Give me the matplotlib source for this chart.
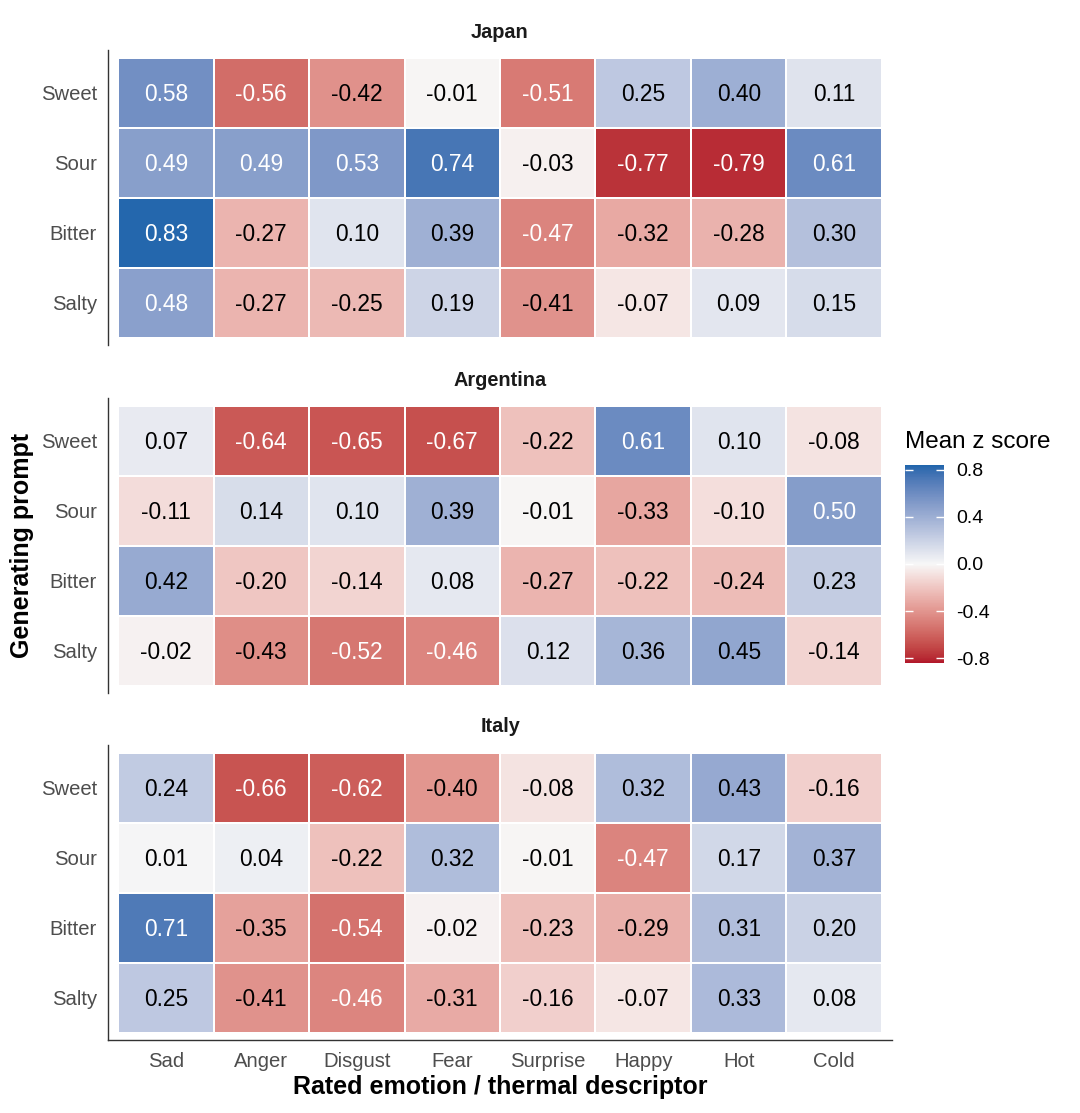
import numpy as np
import matplotlib
matplotlib.use("Agg")
import matplotlib.pyplot as plt
from matplotlib.colors import ListedColormap, Normalize

plt.rcParams['font.family'] = ['Liberation Sans', 'DejaVu Sans']

emotions = ["Sad", "Anger", "Disgust", "Fear", "Surprise", "Happy", "Hot", "Cold"]
prompts = ["Sweet", "Sour", "Bitter", "Salty"]
countries = ["Japan", "Argentina", "Italy"]

japan = [
    [0.58, -0.56, -0.42, -0.01, -0.51, 0.25, 0.40, 0.11],
    [0.49, 0.49, 0.53, 0.74, -0.03, -0.77, -0.79, 0.61],
    [0.83, -0.27, 0.10, 0.39, -0.47, -0.32, -0.28, 0.30],
    [0.48, -0.27, -0.25, 0.19, -0.41, -0.07, 0.09, 0.15],
]
argentina = [
    [0.07, -0.64, -0.65, -0.67, -0.22, 0.61, 0.10, -0.08],
    [-0.11, 0.14, 0.10, 0.39, -0.01, -0.33, -0.10, 0.50],
    [0.42, -0.20, -0.14, 0.08, -0.27, -0.22, -0.24, 0.23],
    [-0.02, -0.43, -0.52, -0.46, 0.12, 0.36, 0.45, -0.14],
]
italy = [
    [0.24, -0.66, -0.62, -0.40, -0.08, 0.32, 0.43, -0.16],
    [0.01, 0.04, -0.22, 0.32, -0.01, -0.47, 0.17, 0.37],
    [0.71, -0.35, -0.54, -0.02, -0.23, -0.29, 0.31, 0.20],
    [0.25, -0.41, -0.46, -0.31, -0.16, -0.07, 0.33, 0.08],
]
panels = [japan, argentina, italy]
cbar_ticks = [-0.8, -0.4, 0.0, 0.4, 0.8]


# ---- Lab-interpolated diverging colormap (like ggplot2 gradient2) ----
M = np.array([[0.4124564, 0.3575761, 0.1804375],
              [0.2126729, 0.7151522, 0.0721750],
              [0.0193339, 0.1191920, 0.9503041]])
Minv = np.linalg.inv(M)
WHITE = np.array([0.95047, 1.0, 1.08883])


def hex2rgb(h):
    h = h.lstrip('#')
    return np.array([int(h[i:i + 2], 16) / 255 for i in (0, 2, 4)])


def rgb2lab(c):
    lin = np.where(c <= 0.04045, c / 12.92, ((c + 0.055) / 1.055) ** 2.4)
    xyz = M @ lin / WHITE
    f = np.where(xyz > (6 / 29) ** 3, np.cbrt(xyz), xyz / (3 * (6 / 29) ** 2) + 4 / 29)
    return np.array([116 * f[1] - 16, 500 * (f[0] - f[1]), 200 * (f[1] - f[2])])


def lab2rgb(lab):
    L, a, b = lab
    fy = (L + 16) / 116
    fx = fy + a / 500
    fz = fy - b / 200
    f = np.array([fx, fy, fz])
    xyz = np.where(f > 6 / 29, f ** 3, 3 * (6 / 29) ** 2 * (f - 4 / 29)) * WHITE
    lin = Minv @ xyz
    lin = np.clip(lin, 0, 1)
    c = np.where(lin <= 0.0031308, 12.92 * lin, 1.055 * lin ** (1 / 2.4) - 0.055)
    return np.clip(c, 0, 1)


low, mid, high = rgb2lab(hex2rgb("#B2182B")), rgb2lab(hex2rgb("#F7F7F7")), rgb2lab(hex2rgb("#2166AC"))
cols = []
N = 256
for t in np.linspace(0, 1, N):
    if t < 0.5:
        s = t / 0.5
        lab = low + (mid - low) * s
    else:
        s = (t - 0.5) / 0.5
        lab = mid + (high - mid) * s
    cols.append(lab2rgb(lab))
cmap = ListedColormap(cols)
norm = Normalize(vmin=-0.84, vmax=0.84)

W, H = 1080, 1113
fig = plt.figure(figsize=(W / 100, H / 100), dpi=100)

left = 108 / W
width = (892 - 108) / W
tops = [50, 398, 745]
ph = 295

for k, (name, data) in enumerate(zip(countries, panels)):
    top = tops[k]
    ax = fig.add_axes([left, 1 - (top + ph) / H, width, ph / H])
    arr = np.array(data)
    xe = np.arange(len(emotions) + 1) - 0.5
    ye = np.arange(len(prompts) + 1) - 0.5
    ax.pcolormesh(xe, ye, arr, cmap=cmap, norm=norm, edgecolor='white', linewidth=1.1)
    for i in range(len(prompts)):
        for j in range(len(emotions)):
            v = arr[i, j]
            ax.text(j, i + 0.02, f"{v:.2f}", ha='center', va='center', fontsize=16.4,
                    color='white' if abs(v) > 0.455 else 'black')
    ax.set_xlim(-0.605, len(emotions) - 0.5 + 0.105)
    ax.set_ylim(len(prompts) - 0.5 + 0.1, -0.5 - 0.11)
    ax.set_yticks(range(len(prompts)))
    ax.set_yticklabels(prompts)
    ax.tick_params(axis='y', length=0, labelsize=14.6, labelcolor='#4D4D4D', pad=8)
    for s in ['top', 'right']:
        ax.spines[s].set_visible(False)
    ax.spines['left'].set_color('#333333')
    ax.spines['left'].set_linewidth(1.0)
    if k == 2:
        ax.set_xticks(range(len(emotions)))
        ax.set_xticklabels(emotions)
        ax.tick_params(axis='x', length=0, labelsize=14.6, labelcolor='#4D4D4D', pad=8.5)
        ax.spines['bottom'].set_color('#333333')
        ax.spines['bottom'].set_linewidth(1.0)
    else:
        ax.set_xticks([])
        ax.spines['bottom'].set_visible(False)
    fig.text(500 / W, 1 - (top - 18) / H, name, ha='center', va='center',
             fontsize=14.3, fontweight='bold', color='#1A1A1A')

fig.text(22 / W, 1 - 545 / H, "Generating prompt", rotation=90, ha='center', va='center',
         fontsize=18, fontweight='bold')
fig.text(500 / W, 1 - 1087 / H, "Rated emotion / thermal descriptor", ha='center', va='center',
         fontsize=18, fontweight='bold')

# colorbar
cax = fig.add_axes([905 / W, 1 - 663 / H, 39 / W, 198 / H])
sm = plt.cm.ScalarMappable(cmap=cmap, norm=norm)
cb = fig.colorbar(sm, cax=cax, ticks=cbar_ticks)
cb.outline.set_visible(False)
cb.ax.set_yticklabels([f"{t:.1f}" for t in cbar_ticks])
cax.yaxis.set_ticks_position('both')
cax.tick_params(axis='y', direction='in', length=6, width=1, color='white',
                labelcolor='black', labelsize=14, left=True, right=True,
                labelleft=False, labelright=True, pad=9)
fig.text(905 / W, 1 - 442 / H, "Mean z score", ha='left', va='center', fontsize=17.5)

fig.savefig("out.png", dpi=100)
